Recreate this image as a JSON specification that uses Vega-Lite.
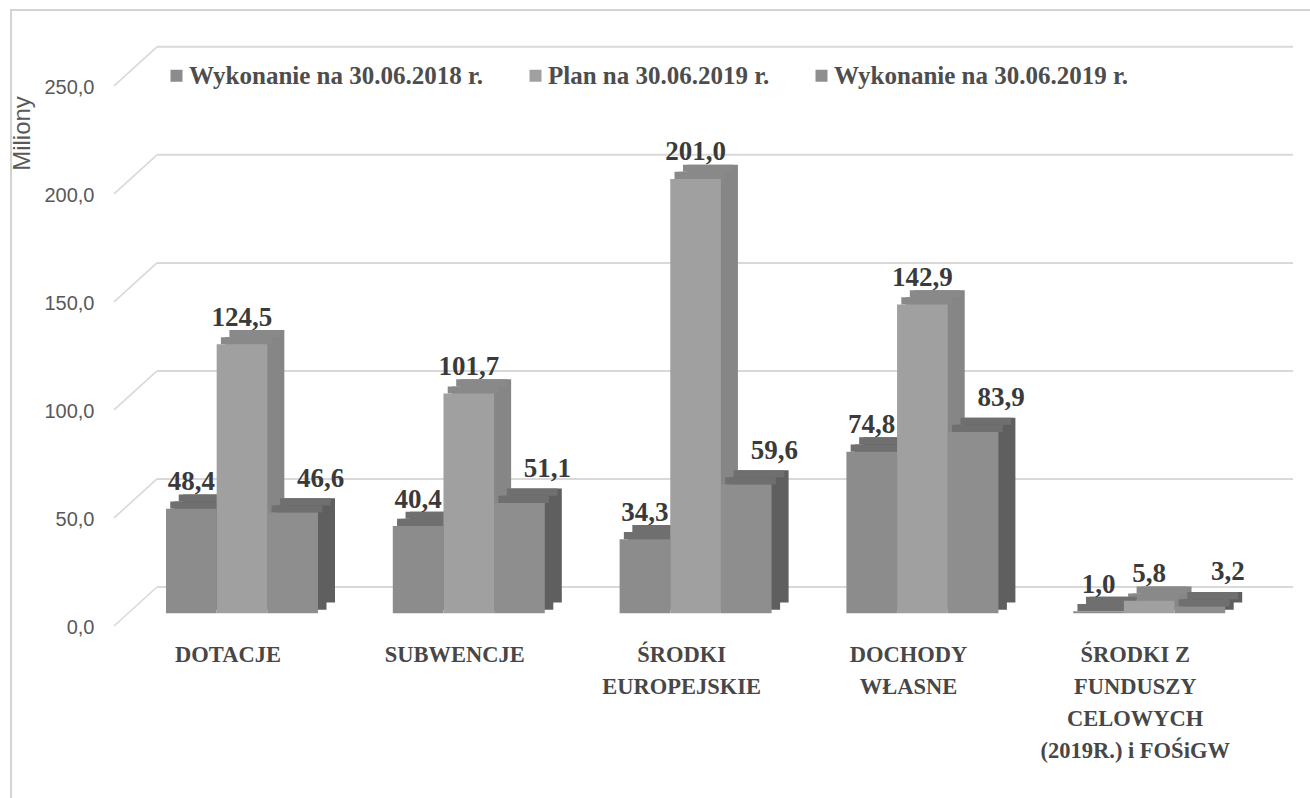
{
  "$schema": "https://vega.github.io/schema/vega-lite/v6.json",
  "width": 1301,
  "height": 790,
  "autosize": {"type": "none"},
  "padding": {"left": 11, "top": 10, "right": 0, "bottom": 0},
  "background": "white",
  "config": {
    "view": {"stroke": "#d4d4d4", "strokeWidth": 2},
    "locale": {"number": {"decimal": ",", "thousands": " ", "grouping": [3], "currency": ["", " zł"]}}
  },
  "datasets": {
    "bars": [
      {"kategoria": "DOTACJE", "seria": "Wykonanie na 30.06.2018 r.", "wartosc": 48.4},
      {"kategoria": "DOTACJE", "seria": "Plan na 30.06.2019 r.", "wartosc": 124.5},
      {"kategoria": "DOTACJE", "seria": "Wykonanie na 30.06.2019 r.", "wartosc": 46.6},
      {"kategoria": "SUBWENCJE", "seria": "Wykonanie na 30.06.2018 r.", "wartosc": 40.4},
      {"kategoria": "SUBWENCJE", "seria": "Plan na 30.06.2019 r.", "wartosc": 101.7},
      {"kategoria": "SUBWENCJE", "seria": "Wykonanie na 30.06.2019 r.", "wartosc": 51.1},
      {"kategoria": "ŚRODKI EUROPEJSKIE", "seria": "Wykonanie na 30.06.2018 r.", "wartosc": 34.3},
      {"kategoria": "ŚRODKI EUROPEJSKIE", "seria": "Plan na 30.06.2019 r.", "wartosc": 201.0},
      {"kategoria": "ŚRODKI EUROPEJSKIE", "seria": "Wykonanie na 30.06.2019 r.", "wartosc": 59.6},
      {"kategoria": "DOCHODY WŁASNE", "seria": "Wykonanie na 30.06.2018 r.", "wartosc": 74.8},
      {"kategoria": "DOCHODY WŁASNE", "seria": "Plan na 30.06.2019 r.", "wartosc": 142.9},
      {"kategoria": "DOCHODY WŁASNE", "seria": "Wykonanie na 30.06.2019 r.", "wartosc": 83.9},
      {"kategoria": "ŚRODKI Z FUNDUSZY CELOWYCH (2019R.) i FOŚiGW", "seria": "Wykonanie na 30.06.2018 r.", "wartosc": 1.0},
      {"kategoria": "ŚRODKI Z FUNDUSZY CELOWYCH (2019R.) i FOŚiGW", "seria": "Plan na 30.06.2019 r.", "wartosc": 5.8},
      {"kategoria": "ŚRODKI Z FUNDUSZY CELOWYCH (2019R.) i FOŚiGW", "seria": "Wykonanie na 30.06.2019 r.", "wartosc": 3.2}
    ],
    "siatka": [{"wartosc": 0}, {"wartosc": 50}, {"wartosc": 100}, {"wartosc": 150}, {"wartosc": 200}, {"wartosc": 250}]
  },
  "resolve": {"scale": {"xOffset": "independent"}},
  "encoding": {
    "x": {
      "field": "kategoria", "type": "nominal",
      "scale": {"domain": ["DOTACJE", "SUBWENCJE", "ŚRODKI EUROPEJSKIE", "DOCHODY WŁASNE", "ŚRODKI Z FUNDUSZY CELOWYCH (2019R.) i FOŚiGW"], "paddingInner": 0.1799, "paddingOuter": 0.4581, "align": 0.6641, "round": false},
      "axis": {
        "title": null, "offset": -186.7, "domain": false, "ticks": false, "tickSize": 0,
        "labelPadding": 30, "labelOffset": -14, "labelAngle": 0,
        "labelFont": "Liberation Serif", "labelFontWeight": "bold", "labelFontSize": 22.5,
        "labelColor": "#474747", "labelLineHeight": 32, "labelLimit": 400, "labelOverlap": false,
        "labelExpr": "datum.value === 'ŚRODKI EUROPEJSKIE' ? ['ŚRODKI', 'EUROPEJSKIE'] : datum.value === 'DOCHODY WŁASNE' ? ['DOCHODY', 'WŁASNE'] : datum.value === 'ŚRODKI Z FUNDUSZY CELOWYCH (2019R.) i FOŚiGW' ? ['ŚRODKI Z', 'FUNDUSZY', 'CELOWYCH', '(2019R.) i FOŚiGW'] : datum.label"
      }
    },
    "y": {
      "field": "wartosc", "type": "quantitative",
      "scale": {"domain": [-86.4, 279.2], "nice": false, "zero": false},
      "axis": {
        "title": "Miliony", "values": [0, 50, 100, 150, 200, 250], "format": ".1f",
        "offset": -83, "domain": false, "ticks": false, "tickSize": 0, "grid": false,
        "labelPadding": 0, "labelOffset": 14,
        "labelFont": "Liberation Sans", "labelFontSize": 20, "labelColor": "#595959",
        "titleFont": "Liberation Sans", "titleFontSize": 24, "titleFontWeight": "normal", "titleColor": "#595959",
        "titleX": -72, "titleY": 123, "titleAngle": -90, "titleAlign": "center", "titleBaseline": "middle"
      }
    }
  },
  "layer": [
    {
      "data": {"name": "siatka"},
      "mark": {"type": "rule", "color": "#d9d9d9", "strokeWidth": 2, "yOffset": -26.3},
      "encoding": {
        "x": {"value": 146},
        "x2": {"value": 1282}
      }
    },
    {
      "data": {"name": "siatka"},
      "mark": {"type": "rule", "color": "#d9d9d9", "strokeWidth": 1.6, "yOffset": 12.7, "y2Offset": -26.3},
      "encoding": {
        "y2": {"field": "wartosc"},
        "x": {"value": 103},
        "x2": {"value": 146}
      }
    },
    {
      "data": {"name": "bars"},
      "mark": {"type": "bar", "yOffset": -14.3, "y2Offset": -10.7},
      "encoding": {
        "xOffset": {"field": "seria", "type": "nominal", "scale": {"type": "band", "domain": ["Wykonanie na 30.06.2018 r.", "Plan na 30.06.2019 r.", "Wykonanie na 30.06.2019 r."], "paddingInner": 0, "paddingOuter": 0.3355, "align": 1, "round": false}},
        "y2": {"datum": 0},
        "color": {"condition": {"test": "datum.seria === 'Plan na 30.06.2019 r.'", "value": "#868686"}, "value": "#5f5f5f"}
      }
    },
    {
      "data": {"name": "bars"},
      "mark": {"type": "bar", "yOffset": -7.15, "y2Offset": -3.6},
      "encoding": {
        "xOffset": {"field": "seria", "type": "nominal", "scale": {"type": "band", "domain": ["Wykonanie na 30.06.2018 r.", "Plan na 30.06.2019 r.", "Wykonanie na 30.06.2019 r."], "paddingInner": 0, "paddingOuter": 0.3355, "align": 0.75, "round": false}},
        "y2": {"datum": 0},
        "color": {"condition": {"test": "datum.seria === 'Plan na 30.06.2019 r.'", "value": "#868686"}, "value": "#5f5f5f"}
      }
    },
    {
      "data": {"name": "bars"},
      "mark": {"type": "bar", "yOffset": -7.15, "y2Offset": 0},
      "encoding": {
        "xOffset": {"field": "seria", "type": "nominal", "scale": {"type": "band", "domain": ["Wykonanie na 30.06.2018 r.", "Plan na 30.06.2019 r.", "Wykonanie na 30.06.2019 r."], "paddingInner": 0, "paddingOuter": 0.3355, "align": 0.625, "round": false}},
        "y2": {"field": "wartosc"},
        "color": {"condition": {"test": "datum.seria === 'Plan na 30.06.2019 r.'", "value": "#898989"}, "value": "#6f6f6f"}
      }
    },
    {
      "data": {"name": "bars"},
      "mark": {"type": "bar", "yOffset": -14.3, "y2Offset": -7.15},
      "encoding": {
        "xOffset": {"field": "seria", "type": "nominal", "scale": {"type": "band", "domain": ["Wykonanie na 30.06.2018 r.", "Plan na 30.06.2019 r.", "Wykonanie na 30.06.2019 r."], "paddingInner": 0, "paddingOuter": 0.3355, "align": 0.875, "round": false}},
        "y2": {"field": "wartosc"},
        "color": {"condition": {"test": "datum.seria === 'Plan na 30.06.2019 r.'", "value": "#898989"}, "value": "#6f6f6f"}
      }
    },
    {
      "data": {"name": "bars"},
      "mark": {"type": "bar"},
      "encoding": {
        "xOffset": {"field": "seria", "type": "nominal", "scale": {"type": "band", "domain": ["Wykonanie na 30.06.2018 r.", "Plan na 30.06.2019 r.", "Wykonanie na 30.06.2019 r."], "paddingInner": 0, "paddingOuter": 0.3355, "align": 0.5, "round": false}},
        "color": {
          "field": "seria", "type": "nominal",
          "scale": {"domain": ["Wykonanie na 30.06.2018 r.", "Plan na 30.06.2019 r.", "Wykonanie na 30.06.2019 r."], "range": ["#8c8c8c", "#a0a0a0", "#8e8e8e"]},
          "legend": {
            "title": null, "orient": "none", "legendX": 153, "legendY": 53, "direction": "horizontal",
            "symbolType": "square", "symbolSize": 144, "symbolStrokeWidth": 0, "symbolOpacity": 1,
            "labelFont": "Liberation Serif", "labelFontWeight": "bold", "labelFontSize": 25,
            "labelColor": "#4d4d4d", "labelLimit": 600, "labelOffset": 0, "columnPadding": 39, "padding": 0
          }
        }
      }
    },
    {
      "data": {"name": "bars"},
      "transform": [{"filter": "datum.seria !== 'Wykonanie na 30.06.2019 r.'"}],
      "mark": {"type": "text", "baseline": "alphabetic", "align": "center", "dy": -18.5, "font": "Liberation Serif", "fontWeight": "bold", "fontSize": 27, "color": "#3a3a3a"},
      "encoding": {
        "xOffset": {"field": "seria", "type": "nominal", "scale": {"type": "band", "domain": ["Wykonanie na 30.06.2018 r.", "Plan na 30.06.2019 r.", "Wykonanie na 30.06.2019 r."], "paddingInner": 0, "paddingOuter": 0.3355, "align": 0.5, "round": false}},
        "text": {"field": "wartosc", "type": "quantitative", "format": ".1f"}
      }
    },
    {
      "data": {"name": "bars"},
      "transform": [{"filter": "datum.seria === 'Wykonanie na 30.06.2019 r.'"}],
      "mark": {"type": "text", "baseline": "alphabetic", "align": "center", "dx": 28, "dy": -26, "font": "Liberation Serif", "fontWeight": "bold", "fontSize": 27, "color": "#3a3a3a"},
      "encoding": {
        "xOffset": {"field": "seria", "type": "nominal", "scale": {"type": "band", "domain": ["Wykonanie na 30.06.2018 r.", "Plan na 30.06.2019 r.", "Wykonanie na 30.06.2019 r."], "paddingInner": 0, "paddingOuter": 0.3355, "align": 0.5, "round": false}},
        "text": {"field": "wartosc", "type": "quantitative", "format": ".1f"}
      }
    }
  ]
}
